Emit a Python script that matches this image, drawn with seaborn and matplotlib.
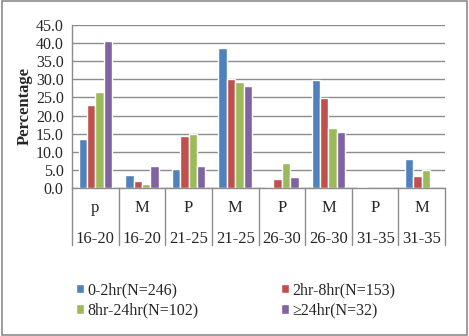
import numpy as np
import pandas as pd
import seaborn as sns
import matplotlib.pyplot as plt
from matplotlib.patches import Rectangle

# Values
groups = ["p\n16-20", "M\n16-20", "P\n21-25", "M\n21-25",
          "P\n26-30", "M\n26-30", "P\n31-35", "M\n31-35"]
series = ["0-2hr(N=246)", "2hr-8hr(N=153)", "8hr-24hr(N=102)", "\u226524hr(N=32)"]
v_0_2 = [13.5, 3.7, 5.3, 38.6, 0.3, 29.9, 0.3, 8.1]
v_2_8 = [22.9, 2.0, 14.4, 30.1, 2.6, 24.8, 0.0, 3.3]
v_8_24 = [26.4, 1.0, 14.9, 29.4, 6.8, 16.6, 0.0, 5.0]
v_24 = [40.6, 6.2, 6.2, 28.1, 3.1, 15.5, 0.0, 0.0]

colours = ["#4F81BD", "#C0504D", "#9BBB59", "#8064A2"]

df = pd.DataFrame({
    "group": groups * 4,
    "series": np.repeat(series, len(groups)),
    "value": v_0_2 + v_2_8 + v_8_24 + v_24,
})

sns.set_style("white")
plt.rcParams['font.family'] = ['Liberation Serif', 'DejaVu Serif']

fig = plt.figure(figsize=(4.69, 3.36), dpi=100)
ax = fig.add_axes([0.1535, 0.4405, 0.7955, 0.4851])

sns.barplot(data=df, x="group", y="value", hue="series", order=groups,
            hue_order=series, palette=colours, width=0.72, gap=0,
            saturation=1, ax=ax, legend=True)

ax.set_ylim(0, 45)
ax.set_xlim(-0.5, len(groups) - 0.5)
ax.set_yticks(np.arange(0, 46, 5))
ax.set_yticklabels([f"{t:.1f}" for t in np.arange(0, 46, 5)], fontsize=11.5)
ax.yaxis.grid(True, color="#8c8c8c", linewidth=1)
ax.set_axisbelow(True)
ax.tick_params(axis="y", length=4, color="#8c8c8c", pad=2)
ax.tick_params(axis="x", length=0, pad=9)
ax.set_xticks(range(len(groups)))
ax.set_xticklabels(groups, fontsize=12, linespacing=2.2)
ax.set_xlabel("")
ax.set_ylabel("Percentage", fontsize=12, fontweight="bold", labelpad=2)
for s in ["top", "right"]:
    ax.spines[s].set_visible(False)
for s in ["left", "bottom"]:
    ax.spines[s].set_color("#8c8c8c")
    ax.spines[s].set_linewidth(1)

# category separators below the axis
trans = ax.get_xaxis_transform()
for x in np.arange(-0.5, len(groups), 1.0):
    ax.plot([x, x], [0, -0.35], transform=trans, color="#8c8c8c",
            linewidth=1, clip_on=False)

handles, labels = ax.get_legend_handles_labels()
ax.get_legend().remove()
order = [0, 2, 1, 3]  # fill the two-column legend row by row
fig.legend([handles[i] for i in order], [labels[i] for i in order],
           ncol=2, loc="upper left",
           bbox_to_anchor=(0.148, 0.18), frameon=False, fontsize=11.5,
           handlelength=0.5, handleheight=0.5, handletextpad=0.2,
           columnspacing=5.2, labelspacing=0.3, borderaxespad=0)

fig.patches.append(Rectangle((0.004, 0.004), 0.992, 0.992, transform=fig.transFigure,
                             fill=False, edgecolor="#8c8c8c", linewidth=1.2))

fig.savefig("out.png", dpi=100)
